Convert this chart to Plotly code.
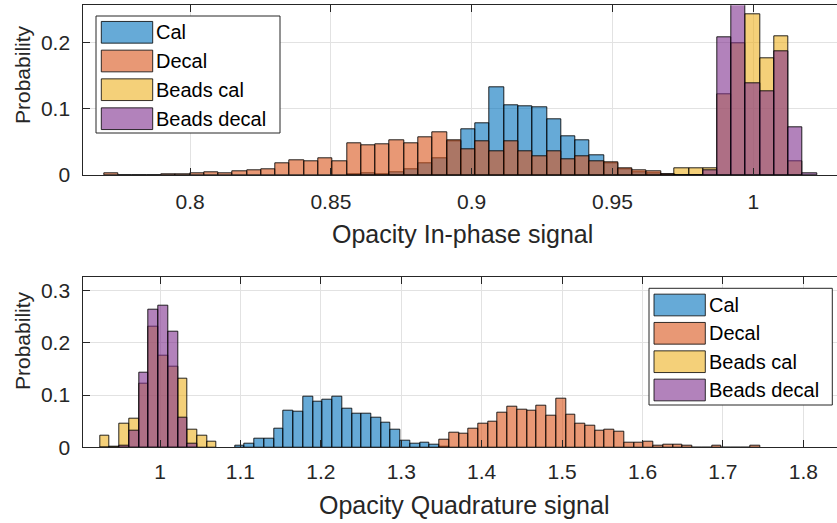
import plotly.graph_objects as go

# ---------------- data ----------------
series_names = ["Cal", "Decal", "Beads cal", "Beads decal"]

# In-phase histograms (probability per bin)
inphase_width = 0.00507
inphase_beads_width = 0.00505
inphase_cal_first_edge = 0.8557
inphase_cal = [0.0015, 0.0025, 0.0015, 0.0035, 0.0085, 0.0175, 0.025, 0.051, 0.0692,
               0.0777, 0.1318, 0.1058, 0.1038, 0.1023, 0.0842, 0.0591, 0.0531, 0.0301,
               0.017, 0.009, 0.0045, 0.003, 0.001]
inphase_decal_first_edge = 0.7695
inphase_decal = [0.0025, 0, 0, 0, 0.001, 0.001, 0.0025, 0.0035, 0.0025, 0.005, 0.007,
                 0.0085, 0.0175, 0.022, 0.0205, 0.025, 0.0205, 0.0476, 0.0441, 0.0456,
                 0.0531, 0.0476, 0.0571, 0.0642, 0.052, 0.0386, 0.0501, 0.0361, 0.0501,
                 0.0361, 0.0286, 0.0361, 0.0241, 0.0286, 0.0201, 0.019, 0.010, 0.007,
                 0.0055, 0.001]
inphase_beads_first_edge = 0.97206
inphase_beads_cal = [0.010, 0.010, 0.010, 0.121, 0.198, 0.243, 0.1764, 0.209, 0.0206]
inphase_beads_decal = [0, 0, 0.0065, 0.207, 0.262, 0.138, 0.1258, 0.186, 0.0717, 0.0025]

# Quadrature histograms
quad_width = 0.0121
quad_beads_first_edge = 0.9254
quad_beads_cal = [0.0223, 0.001, 0.0452, 0.0554, 0.121, 0.2306, 0.1758, 0.1541, 0.1312,
                  0.0331, 0.0223, 0.0115]
quad_beads_decal = [0, 0, 0.003, 0.0312, 0.1433, 0.2624, 0.2707, 0.221, 0.0573, 0.0076]
quad_cal_first_edge = 1.0933
quad_cal = [0.003, 0.0076, 0.0172, 0.016, 0.0357, 0.0707, 0.0688, 0.0962, 0.0879, 0.0904,
            0.0962, 0.0745, 0.0643, 0.0643, 0.0573, 0.0471, 0.0331, 0.0134, 0.0064, 0.0096,
            0.0045, 0.002]
quad_decal_first_edge = 1.3474
quad_decal = [0.014, 0.0274, 0.0255, 0.0357, 0.0452, 0.049, 0.0669, 0.0771, 0.0726, 0.0707,
              0.0803, 0.0605, 0.0924, 0.0624, 0.0452, 0.0414, 0.0312, 0.0338, 0.0293, 0.0096,
              0.0096, 0.0115, 0.0025, 0.0045, 0.0045, 0.0025, 0, 0, 0.0025, 0, 0, 0, 0.0025]

top_xticks = [0.8, 0.85, 0.9, 0.95, 1]
top_xticklabels = ["0.8", "0.85", "0.9", "0.95", "1"]
top_yticks = [0, 0.1, 0.2]
top_yticklabels = ["0", "0.1", "0.2"]
bot_xticks = [1, 1.1, 1.2, 1.3, 1.4, 1.5, 1.6, 1.7, 1.8]
bot_xticklabels = ["1", "1.1", "1.2", "1.3", "1.4", "1.5", "1.6", "1.7", "1.8"]
bot_yticks = [0, 0.1, 0.2, 0.3]
bot_yticklabels = ["0", "0.1", "0.2", "0.3"]

x_title_top = "Opacity In-phase signal"
x_title_bot = "Opacity Quadrature signal"
y_title = "Probability"

# ---------------- style ----------------
W, H = 837, 523
FONT = "Liberation Sans, Arial, Helvetica, sans-serif"
AX = "#262626"
GRID = "#e2e2e2"
colors = ["rgba(0,114,189,0.6)", "rgba(217,83,25,0.6)",
          "rgba(237,177,32,0.6)", "rgba(126,47,142,0.6)"]
EDGE = "rgba(0,0,0,0.85)"


def px(x):
    return x / W


def py(y):
    return 1 - y / H


def centers(first_edge, width, n):
    return [first_edge + width * (i + 0.5) for i in range(n)]


fig = go.Figure()


def add_hist(vals, first_edge, width, ci, xa, ya):
    fig.add_trace(go.Bar(
        x=centers(first_edge, width, len(vals)), y=vals, width=width,
        marker=dict(color=colors[ci], line=dict(color=EDGE, width=1)),
        name=series_names[ci], showlegend=False, xaxis=xa, yaxis=ya,
        hoverinfo="x+y"))


add_hist(inphase_cal, inphase_cal_first_edge, inphase_width, 0, "x", "y")
add_hist(inphase_decal, inphase_decal_first_edge, inphase_width, 1, "x", "y")
add_hist(inphase_beads_cal, inphase_beads_first_edge, inphase_beads_width, 2, "x", "y")
add_hist(inphase_beads_decal, inphase_beads_first_edge, inphase_beads_width, 3, "x", "y")

add_hist(quad_cal, quad_cal_first_edge, quad_width, 0, "x2", "y2")
add_hist(quad_decal, quad_decal_first_edge, quad_width, 1, "x2", "y2")
add_hist(quad_beads_cal, quad_beads_first_edge, quad_width, 2, "x2", "y2")
add_hist(quad_beads_decal, quad_beads_first_edge, quad_width, 3, "x2", "y2")

xdom = [px(83.3), 1.0]
common_x = dict(showline=True, linecolor=AX, linewidth=1, mirror="ticks", ticks="inside",
                ticklen=7, tickcolor=AX, showgrid=True, gridcolor=GRID, gridwidth=1,
                zeroline=False, automargin=False,
                tickfont=dict(family=FONT, size=21, color=AX))
common_y = dict(showline=True, linecolor=AX, linewidth=1, mirror=False, ticks="inside",
                ticklen=7, tickcolor=AX, showgrid=True, gridcolor=GRID, gridwidth=1,
                zeroline=False, automargin=False,
                tickfont=dict(family=FONT, size=21, color=AX))

fig.update_layout(
    template="none",
    width=W, height=H, autosize=False,
    margin=dict(l=0, r=0, t=0, b=0, pad=0, autoexpand=False),
    paper_bgcolor="white", plot_bgcolor="white",
    barmode="overlay", bargap=0, showlegend=False,
    xaxis=dict(domain=xdom, anchor="y", range=[0.7621, 1.0297],
               tickvals=top_xticks, ticktext=top_xticklabels, ticklabelstandoff=8, **common_x),
    yaxis=dict(domain=[py(175), py(5.3)], anchor="x", range=[0, 0.256],
               tickvals=top_yticks, ticktext=top_yticklabels, ticklabelstandoff=8, **common_y),
    xaxis2=dict(domain=xdom, anchor="y2", range=[0.9046, 1.8419],
                tickvals=bot_xticks, ticktext=bot_xticklabels, ticklabelstandoff=5, **common_x),
    yaxis2=dict(domain=[py(447.3), py(276.7)], anchor="x2", range=[0, 0.3262],
                tickvals=bot_yticks, ticktext=bot_yticklabels, ticklabelstandoff=8, **common_y),
    font=dict(family=FONT, color=AX),
)

# axis titles
ann = []
ann.append(dict(text=x_title_top, x=px(462), y=py(234), xref="paper", yref="paper",
                showarrow=False, xanchor="center", yanchor="middle",
                font=dict(family=FONT, size=25, color=AX)))
ann.append(dict(text=x_title_bot, x=px(464), y=py(505), xref="paper", yref="paper",
                showarrow=False, xanchor="center", yanchor="middle",
                font=dict(family=FONT, size=25, color=AX)))
ann.append(dict(text=y_title, x=px(22), y=py(75), xref="paper", yref="paper",
                showarrow=False, xanchor="center", yanchor="middle", textangle=-90,
                font=dict(family=FONT, size=21, color=AX)))
ann.append(dict(text=y_title, x=px(22), y=py(341), xref="paper", yref="paper",
                showarrow=False, xanchor="center", yanchor="middle", textangle=-90,
                font=dict(family=FONT, size=21, color=AX)))

shapes = []


def legend(box, sw_x, rows, sw_h, text_x):
    x0, y0, x1, y1 = box
    shapes.append(dict(type="rect", xref="paper", yref="paper", layer="above",
                       x0=px(x0), x1=px(x1), y0=py(y1), y1=py(y0),
                       fillcolor="white", line=dict(color=AX, width=1)))
    for i, ry in enumerate(rows):
        shapes.append(dict(type="rect", xref="paper", yref="paper", layer="above",
                           x0=px(sw_x[0]), x1=px(sw_x[1]),
                           y0=py(ry + sw_h / 2), y1=py(ry - sw_h / 2),
                           fillcolor=colors[i], line=dict(color="rgba(0,0,0,0.8)", width=1)))
        ann.append(dict(text=series_names[i], x=px(text_x), y=py(ry), xref="paper",
                        yref="paper", showarrow=False, xanchor="left", yanchor="middle",
                        font=dict(family=FONT, size=20, color="black")))


legend((96, 16, 280, 133), (101.3, 152.7), [32.3, 61, 89.7, 118.7], 21.7, 154)
legend((649, 288.3, 832.3, 405), (654, 705.3), [305, 333.3, 361.7, 390], 21.7, 707)

fig.update_layout(annotations=ann, shapes=shapes)
fig.write_html("out.html", config={"displayModeBar": False},
               post_script="document.body.style.margin='0px';document.body.style.overflow='hidden';")
